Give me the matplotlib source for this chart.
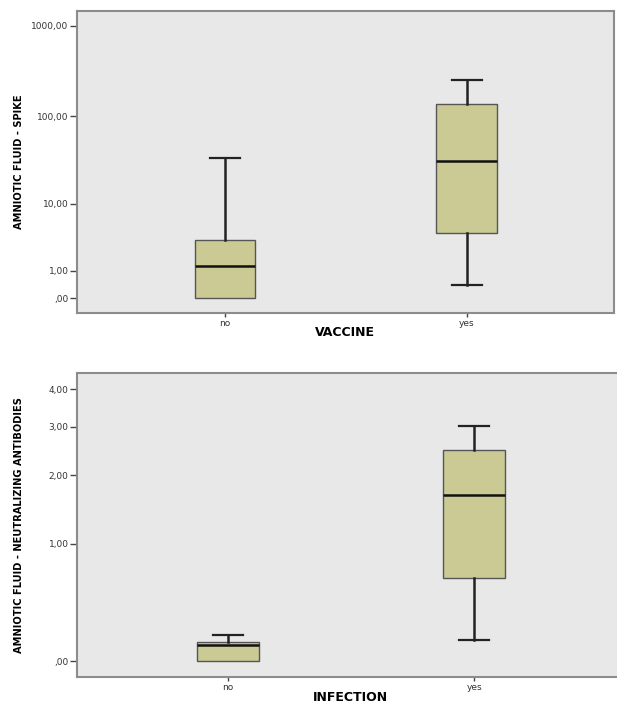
import numpy as np
import matplotlib
matplotlib.use('Agg')
import matplotlib.pyplot as plt

# box statistics
groups = ['no', 'yes']

spike_whislo = [0.0, 0.38]
spike_q1 = [0.0, 4.2]
spike_med = [1.27, 31.6]
spike_q3 = [3.33, 137.0]
spike_whishi = [33.7, 252.0]
spike_ticks = [0, 1, 10, 100, 1000]
spike_ticklabels = [',00', '1,00', '10,00', '100,00', '1000,00']

nab_whislo = [0.0, 0.13]
nab_q1 = [0.0, 0.63]
nab_med = [0.10, 1.67]
nab_q3 = [0.12, 2.48]
nab_whishi = [0.17, 3.02]
nab_ticks = [0, 1, 2, 3, 4]
nab_ticklabels = [',00', '1,00', '2,00', '3,00', '4,00']

BG = '#e8e8e8'
BOX = '#cbca95'
SPINE = '#8c8c8c'


def fwd(y):
    return np.log10(np.maximum(np.asarray(y, dtype=float) + 1, 1e-9))


def inv(y):
    return 10 ** np.asarray(y, dtype=float) - 1


def make_stats(lo, q1, med, q3, hi):
    stats = []
    for i in range(len(lo)):
        stats.append({'whislo': lo[i], 'q1': q1[i], 'med': med[i], 'q3': q3[i],
                      'whishi': hi[i], 'fliers': []})
    return stats


def draw(ax, stats, ticks, ticklabels, ylim, ylabel, xlabel, ylab_x, xlab_y):
    ax.set_facecolor(BG)
    ax.set_yscale('function', functions=(fwd, inv))
    parts = ax.bxp(stats, positions=[0, 1], widths=0.25, patch_artist=True,
                   showfliers=False,
                   boxprops=dict(facecolor=BOX, edgecolor='#555555', linewidth=1.0),
                   medianprops=dict(color='#111111', linewidth=1.8),
                   whiskerprops=dict(color='#222222', linewidth=1.8),
                   capprops=dict(color='#222222', linewidth=1.6),
                   capwidths=0.125)
    # lower whisker collapsed onto the box: SPSS draws no cap there
    for i, st in enumerate(stats):
        if st['whislo'] >= st['q1']:
            parts['caps'][2 * i].set_visible(False)
            parts['whiskers'][2 * i].set_visible(False)
    ax.set_xlim(-0.613, 1.609)
    ax.set_ylim(ylim)
    ax.set_yticks(ticks)
    ax.set_yticklabels(ticklabels)
    ax.yaxis.set_minor_locator(matplotlib.ticker.NullLocator())
    ax.set_xticks([0, 1])
    ax.set_xticklabels(groups)
    ax.tick_params(axis='y', length=5, width=1, color='#444444', labelsize=6.5,
                   labelcolor='#333333', pad=1)
    ax.tick_params(axis='x', length=3, width=1, color='#444444', labelsize=6.5,
                   labelcolor='#333333', pad=1)
    for s in ax.spines.values():
        s.set_color(SPINE)
        s.set_linewidth(1.5)
    ax.set_ylabel(ylabel, fontsize=7.1, fontweight='bold', va='center')
    ax.yaxis.set_label_coords(ylab_x, 0.5)
    ax.set_xlabel(xlabel, fontsize=9, fontweight='bold', va='center')
    ax.xaxis.set_label_coords(0.5, xlab_y)


fig = plt.figure(figsize=(6.17, 7.04), dpi=100)

ax1 = fig.add_axes([0.1248, 0.5554, 0.870, 0.429])
draw(ax1, make_stats(spike_whislo, spike_q1, spike_med, spike_q3, spike_whishi),
     spike_ticks, spike_ticklabels, (-0.316, 1458), 'AMNIOTIC FLUID - SPIKE', 'VACCINE',
     -0.108, -0.066)

ax2 = fig.add_axes([0.1248, 0.0384, 0.8865, 0.4318])
draw(ax2, make_stats(nab_whislo, nab_q1, nab_med, nab_q3, nab_whishi),
     nab_ticks, nab_ticklabels, (-0.090, 4.50),
     'AMNIOTIC FLUID - NEUTRALIZING ANTIBODIES', 'INFECTION',
     -0.106, -0.069)

fig.savefig('out.png', dpi=100)
